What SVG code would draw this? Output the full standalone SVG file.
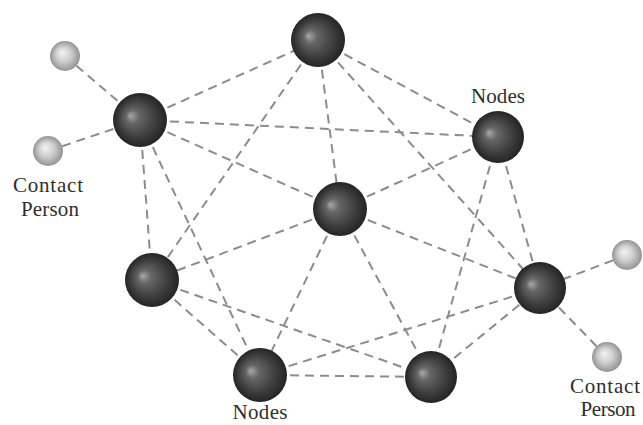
<svg xmlns="http://www.w3.org/2000/svg" width="643" height="425" viewBox="0 0 643 425">
  <defs>
    <radialGradient id="dark" cx="0.5" cy="0.5" r="0.5" fx="0.32" fy="0.42">
      <stop offset="0" stop-color="#a8a8a8"/>
      <stop offset="0.25" stop-color="#666666"/>
      <stop offset="0.7" stop-color="#3c3c3c"/>
      <stop offset="1" stop-color="#242424"/>
    </radialGradient>
    <radialGradient id="light" cx="0.5" cy="0.5" r="0.5" fx="0.4" fy="0.38">
      <stop offset="0" stop-color="#f4f4f4"/>
      <stop offset="0.5" stop-color="#cfcfcf"/>
      <stop offset="1" stop-color="#939393"/>
    </radialGradient>
  </defs>
  <style>
    .link { stroke: #8c8c8c; stroke-width: 2; stroke-dasharray: 9 6; fill: none; }
    .node { fill: url(#dark); }
    .contact { fill: url(#light); }
    .label { font-family: "Liberation Serif", "Times New Roman", serif; font-size: 21px; fill: #2e2e2e; text-anchor: middle; }
  </style>
  <rect width="643" height="425" fill="#ffffff"/>

  <g id="connectors">
    <line class="link" x1="65" y1="56" x2="140" y2="120"/>
    <line class="link" x1="48" y1="151" x2="140" y2="120"/>
    <line class="link" x1="627" y1="255" x2="540" y2="288"/>
    <line class="link" x1="607" y1="357" x2="540" y2="288"/>
    <line class="link" x1="140" y1="120" x2="318" y2="40"/>
    <line class="link" x1="140" y1="120" x2="498" y2="137"/>
    <line class="link" x1="140" y1="120" x2="340" y2="209"/>
    <line class="link" x1="140" y1="120" x2="152" y2="280"/>
    <line class="link" x1="140" y1="120" x2="260" y2="375"/>
    <line class="link" x1="318" y1="40" x2="152" y2="280"/>
    <line class="link" x1="318" y1="40" x2="340" y2="209"/>
    <line class="link" x1="318" y1="40" x2="498" y2="137"/>
    <line class="link" x1="318" y1="40" x2="540" y2="288"/>
    <line class="link" x1="498" y1="137" x2="340" y2="209"/>
    <line class="link" x1="498" y1="137" x2="431" y2="377"/>
    <line class="link" x1="498" y1="137" x2="540" y2="288"/>
    <line class="link" x1="340" y1="209" x2="152" y2="280"/>
    <line class="link" x1="340" y1="209" x2="260" y2="375"/>
    <line class="link" x1="340" y1="209" x2="431" y2="377"/>
    <line class="link" x1="340" y1="209" x2="540" y2="288"/>
    <line class="link" x1="152" y1="280" x2="260" y2="375"/>
    <line class="link" x1="152" y1="280" x2="431" y2="377"/>
    <line class="link" x1="260" y1="375" x2="540" y2="288"/>
    <line class="link" x1="260" y1="375" x2="431" y2="377"/>
    <line class="link" x1="431" y1="377" x2="540" y2="288"/>
  </g>

  <g id="node-top"><circle class="node" cx="318" cy="40" r="27"/></g>
  <g id="node-upper-left"><circle class="node" cx="140" cy="120" r="27"/></g>
  <g id="node-upper-right"><circle class="node" cx="498" cy="137" r="26"/>
    <text class="label" x="498" y="103" textLength="54">Nodes</text></g>
  <g id="node-center"><circle class="node" cx="340" cy="209" r="27"/></g>
  <g id="node-left"><circle class="node" cx="152" cy="280" r="27"/></g>
  <g id="node-right"><circle class="node" cx="540" cy="288" r="26"/></g>
  <g id="node-bottom-left"><circle class="node" cx="260" cy="375" r="27"/>
    <text class="label" x="260" y="419" textLength="55">Nodes</text></g>
  <g id="node-bottom-right"><circle class="node" cx="431" cy="377" r="26"/></g>

  <g id="contact-1"><circle class="contact" cx="65" cy="56" r="15"/></g>
  <g id="contact-2"><circle class="contact" cx="48" cy="151" r="15"/>
    <text class="label" x="48" y="192" textLength="70">Contact</text>
    <text class="label" x="50" y="216" textLength="58">Person</text></g>
  <g id="contact-3"><circle class="contact" cx="627" cy="255" r="15"/></g>
  <g id="contact-4"><circle class="contact" cx="607" cy="357" r="15"/>
    <text class="label" x="605" y="393" textLength="70">Contact</text>
    <text class="label" x="608" y="416" textLength="55">Person</text></g>
</svg>
